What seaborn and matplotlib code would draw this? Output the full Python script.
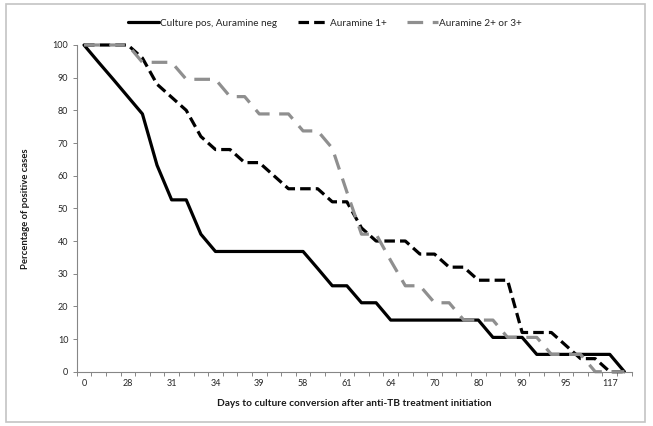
import numpy as np
import pandas as pd
import matplotlib
matplotlib.use("Agg")
import matplotlib.pyplot as plt
import seaborn as sns
from matplotlib.patches import Rectangle

# Category axis: only every third category label is shown in the original
tick_labels = ["0", "28", "31", "34", "39", "58", "61", "64", "70", "80", "90", "95", "117"]

culture_pos_aur_neg = [100, 94.7, 89.5, 84.2, 78.9, 63.2, 52.6, 52.6, 42.1, 36.8,
                       36.8, 36.8, 36.8, 36.8, 36.8, 36.8, 31.6, 26.3, 26.3, 21.1,
                       21.1, 15.8, 15.8, 15.8, 15.8, 15.8, 15.8, 15.8, 10.5, 10.5,
                       10.5, 5.3, 5.3, 5.3, 5.3, 5.3, 5.3, 0]
auramine_1 = [100, 100, 100, 100, 96, 88, 84, 80, 72, 68,
              68, 64, 64, 60, 56, 56, 56, 52, 52, 44,
              40, 40, 40, 36, 36, 32, 32, 28, 28, 28,
              12, 12, 12, 8, 4, 4, 0, 0]
auramine_2_3 = [100, 100, 100, 100, 94.7, 94.7, 94.7, 89.5, 89.5, 89.5,
                84.2, 84.2, 78.9, 78.9, 78.9, 73.7, 73.7, 68.4, 55, 42.1,
                42.1, 34, 26.3, 26.3, 21.1, 21.1, 15.8, 15.8, 15.8, 10.5,
                10.5, 10.5, 5.3, 5.3, 5.3, 0, 0, 0]

series_names = ["Culture pos, Auramine neg", "Auramine 1+", "Auramine 2+ or 3+"]

sns.set_theme(style="white")
plt.rcParams['font.family'] = ['Lato', 'DejaVu Sans']

W, H = 653, 426
fig = plt.figure(figsize=(W / 100, H / 100), dpi=100)
ax = fig.add_axes([76.7 / W, (H - 371.7) / H, 555 / W, 326.7 / H])

pos = np.arange(len(culture_pos_aur_neg))
df = pd.DataFrame({"pos": pos,
                   series_names[0]: culture_pos_aur_neg,
                   series_names[1]: auramine_1,
                   series_names[2]: auramine_2_3})

styles = [
    dict(color="black", linestyle="-"),
    dict(color="black", linestyle=(0, (3.3, 1.6))),
    dict(color="#8f8f8f", linestyle=(0, (4.9, 3.0))),
]
for name, st in zip(series_names, styles):
    sns.lineplot(data=df, x="pos", y=name, ax=ax, lw=2.3, label=name,
                 clip_on=False, **st)

ax.set_xlim(-0.5, len(pos) - 0.5)
ax.set_ylim(0, 100)
ax.set_yticks(range(0, 101, 10))
ax.set_xticks(pos[::3])
ax.set_xticklabels(tick_labels)
ax.set_xticks(np.arange(-0.5, len(pos), 1), minor=True)

axis_col = "#868686"
for s in ["top", "right"]:
    ax.spines[s].set_visible(False)
for s in ["left", "bottom"]:
    ax.spines[s].set_color(axis_col)
    ax.spines[s].set_linewidth(0.8)

ax.tick_params(axis="x", which="major", bottom=True, length=0, pad=5,
               labelsize=6.5, labelcolor="#262626")
ax.tick_params(axis="x", which="minor", bottom=True, length=3, width=0.7,
               color=axis_col, direction="out")
ax.tick_params(axis="y", which="major", left=True, length=3, width=0.7,
               color=axis_col, direction="out", pad=3, labelsize=6.5,
               labelcolor="#262626")

ax.set_xlabel("Days to culture conversion after anti-TB treatment initiation",
              fontsize=7.3, fontweight="bold", color="#1a1a1a")
ax.xaxis.set_label_coords(0.5, (371.7 - 399) / 326.7)
ax.set_ylabel("Percentage of positive cases", fontsize=6.8, fontweight="bold",
              color="#1a1a1a")
ax.yaxis.set_label_coords((30 - 76.7) / 555, 0.5)

handles, labels = ax.get_legend_handles_labels()
ax.get_legend().remove()
fig.legend(handles, labels, loc="center", bbox_to_anchor=(325 / W, 1 - 23 / H),
           ncol=3, frameon=False, fontsize=7.2, handlelength=3.1,
           handletextpad=0.15, columnspacing=2.0)

fig.patches.append(Rectangle((6 / W, 4 / H), 639 / W, 418 / H,
                             transform=fig.transFigure, fill=False,
                             ec="#c4c4c4", lw=1.2))

fig.savefig("out.png", dpi=100)
